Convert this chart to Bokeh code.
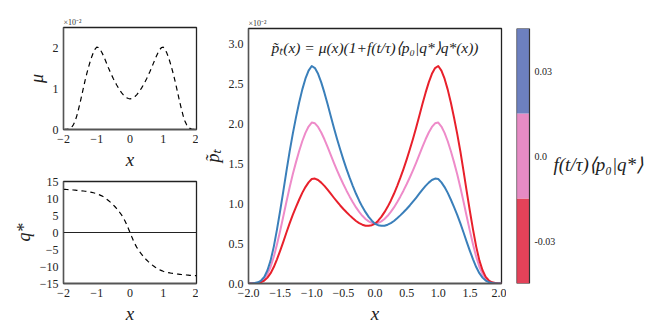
from bokeh.plotting import figure
from bokeh.layouts import row, column
from bokeh.models import FixedTicker, Span
from bokeh.embed import file_html
from bokeh.resources import INLINE
from bokeh.core.properties import value

# ---------------- data ----------------
x = [-2.0, -1.95, -1.9, -1.85, -1.8, -1.75, -1.7, -1.65, -1.6, -1.55,
     -1.5, -1.45, -1.4, -1.35, -1.3, -1.25, -1.2, -1.15, -1.1, -1.05,
     -1.0, -0.95, -0.9, -0.85, -0.8, -0.75, -0.7, -0.65, -0.6, -0.55,
     -0.5, -0.45, -0.4, -0.35, -0.3, -0.25, -0.2, -0.15, -0.1, -0.05,
     0.0,
     0.05, 0.1, 0.15, 0.2, 0.25, 0.3, 0.35, 0.4, 0.45, 0.5,
     0.55, 0.6, 0.65, 0.7, 0.75, 0.8, 0.85, 0.9, 0.95, 1.0,
     1.05, 1.1, 1.15, 1.2, 1.25, 1.3, 1.35, 1.4, 1.45, 1.5,
     1.55, 1.6, 1.65, 1.7, 1.75, 1.8, 1.85, 1.9, 1.95, 2.0]

# mu(x), units of 1e-2
mu = [0.0, 0.001, 0.004, 0.011, 0.027, 0.06, 0.12, 0.21, 0.335, 0.49,
      0.66, 0.84, 1.025, 1.205, 1.37, 1.52, 1.66, 1.785, 1.89, 1.97,
      2.02, 2.01, 1.965, 1.895, 1.81, 1.715, 1.615, 1.515, 1.42, 1.33,
      1.245, 1.165, 1.09, 1.02, 0.955, 0.898, 0.85, 0.81, 0.78, 0.76,
      0.75,
      0.76, 0.78, 0.81, 0.85, 0.898, 0.955, 1.02, 1.09, 1.165, 1.245,
      1.33, 1.42, 1.515, 1.615, 1.715, 1.81, 1.895, 1.965, 2.01, 2.02,
      1.97, 1.89, 1.785, 1.66, 1.52, 1.37, 1.205, 1.025, 0.84, 0.66,
      0.49, 0.335, 0.21, 0.12, 0.06, 0.027, 0.011, 0.004, 0.001, 0.0]

# q*(x)
qstar = [12.7, 12.68, 12.65, 12.63, 12.6, 12.55, 12.5, 12.45, 12.4, 12.35,
         12.3, 12.25, 12.2, 12.13, 12.05, 11.98, 11.9, 11.8, 11.7, 11.55,
         11.4, 11.2, 11.0, 10.78, 10.5, 10.17, 9.8, 9.42, 9.0, 8.57,
         8.1, 7.57, 7.0, 6.42, 5.8, 5.1, 4.3, 3.4, 2.35, 1.2,
         0.0,
         -1.2, -2.35, -3.4, -4.3, -5.1, -5.8, -6.42, -7.0, -7.57, -8.1,
         -8.57, -9.0, -9.42, -9.8, -10.17, -10.5, -10.78, -11.0, -11.2, -11.4,
         -11.55, -11.7, -11.8, -11.9, -11.98, -12.05, -12.13, -12.2, -12.25, -12.3,
         -12.35, -12.4, -12.45, -12.5, -12.55, -12.6, -12.63, -12.65, -12.68, -12.7]

# p~_t(x), units of 1e-2, for f<p0|q*> = +0.03 (blue), 0.0 (pink = mu), -0.03 (red)
p_pos = [0.0, 0.0014, 0.0056, 0.0153, 0.0375, 0.0832, 0.1662, 0.2904, 0.463, 0.676,
         0.910, 1.157, 1.410, 1.656, 1.878, 2.081, 2.269, 2.433, 2.570, 2.671,
         2.729, 2.703, 2.631, 2.524, 2.395, 2.252, 2.103, 1.954, 1.813, 1.681,
         1.555, 1.436, 1.325, 1.222, 1.126, 1.039, 0.962, 0.895, 0.836, 0.788,
         0.75,
         0.732, 0.724, 0.725, 0.738, 0.757, 0.784, 0.818, 0.855, 0.894, 0.935,
         0.979, 1.027, 1.076, 1.127, 1.178, 1.225, 1.266, 1.299, 1.317, 1.311,
         1.269, 1.210, 1.137, 1.051, 0.959, 0.862, 0.754, 0.640, 0.523, 0.410,
         0.304, 0.207, 0.1296, 0.0738, 0.0368, 0.0165, 0.0067, 0.0024, 0.0006, 0.0]
p_zero = mu
p_neg = [0.0, 0.0006, 0.0024, 0.0067, 0.0165, 0.0368, 0.0738, 0.1296, 0.207, 0.304,
         0.410, 0.523, 0.640, 0.754, 0.862, 0.959, 1.051, 1.137, 1.210, 1.269,
         1.311, 1.317, 1.299, 1.266, 1.225, 1.178, 1.127, 1.076, 1.027, 0.979,
         0.935, 0.894, 0.855, 0.818, 0.784, 0.757, 0.738, 0.725, 0.724, 0.732,
         0.75,
         0.788, 0.836, 0.895, 0.962, 1.039, 1.126, 1.222, 1.325, 1.436, 1.555,
         1.681, 1.813, 1.954, 2.103, 2.252, 2.395, 2.524, 2.631, 2.703, 2.729,
         2.671, 2.570, 2.433, 2.269, 2.081, 1.878, 1.656, 1.410, 1.157, 0.910,
         0.676, 0.463, 0.2904, 0.1662, 0.0832, 0.0375, 0.0153, 0.0056, 0.0014, 0.0]

cb_values = [-0.03, 0.0, 0.03]
cb_labels = ["-0.03", "0.0", "0.03"]
cb_colors = ["#e34259", "#e68bc4", "#6d80bf"]

small_xticks = [-2, -1, 0, 1, 2]
small_xlabels = ["\u22122", "\u22121", "0", "1", "2"]
mu_yticks = [0, 1, 2]
mu_ylabels = ["0", "1", "2"]
q_yticks = [-15, -10, -5, 0, 5, 10, 15]
q_ylabels = ["\u221215", "\u221210", "\u22125", "0", "5", "10", "15"]
main_xticks = [-2.0, -1.5, -1.0, -0.5, 0.0, 0.5, 1.0, 1.5, 2.0]
main_xlabels = ["\u22122.0", "\u22121.5", "\u22121.0", "\u22120.5", "0.0",
                "0.5", "1.0", "1.5", "2.0"]
main_yticks = [0.0, 0.5, 1.0, 1.5, 2.0, 2.5, 3.0]
main_ylabels = ["0.0", "0.5", "1.0", "1.5", "2.0", "2.5", "3.0"]

SERIF = "Liberation Serif"
TXT = "#222222"


def style(p, xt, xl, yt, yl, xlabel, ylabel, ylabel_size="18px"):
    p.xgrid.visible = False
    p.ygrid.visible = False
    p.outline_line_color = "#222222"
    p.outline_line_width = 1.3
    for ax in (p.xaxis[0], p.yaxis[0]):
        ax.axis_line_color = "#555555"
        ax.axis_line_width = 1.3
        ax.major_tick_line_color = None
        ax.minor_tick_line_color = None
        ax.major_tick_out = 0
        ax.major_tick_in = 0
        ax.minor_tick_out = 0
        ax.major_label_text_font = SERIF
        ax.major_label_text_font_size = "12px"
        ax.major_label_text_color = TXT
        ax.major_label_standoff = 5
        ax.axis_label_text_font = SERIF
        ax.axis_label_text_font_style = "italic"
        ax.axis_label_text_color = TXT
        ax.axis_label_standoff = 3
    p.xaxis.ticker = FixedTicker(ticks=xt)
    p.xaxis.major_label_overrides = {t: s for t, s in zip(xt, xl)}
    p.yaxis.ticker = FixedTicker(ticks=yt)
    p.yaxis.major_label_overrides = {t: s for t, s in zip(yt, yl)}
    p.xaxis.axis_label = xlabel
    p.xaxis.axis_label_text_font_size = "19px"
    p.yaxis.axis_label = ylabel
    p.yaxis.axis_label_text_font_size = ylabel_size


def sci_title(p):
    p.title.text = "\u00d710\u207b\u00b2"
    p.title.text_font = SERIF
    p.title.text_font_size = "8px"
    p.title.text_font_style = "normal"
    p.title.text_color = "#333333"
    p.title.align = "left"
    p.title.standoff = 1


# ---------------- top-left: mu ----------------
p1 = figure(width=198, height=172, x_range=(-2, 2), y_range=(0, 2.5),
            output_backend="svg", toolbar_location=None,
            min_border_left=63, min_border_right=2,
            min_border_top=27, min_border_bottom=43)
p1.line(x, mu, line_color="black", line_width=1.2, line_dash="5 4")
style(p1, small_xticks, small_xlabels, mu_yticks, mu_ylabels, "x", "\u03bc")
sci_title(p1)

# ---------------- bottom-left: q* ----------------
p2 = figure(width=198, height=162, x_range=(-2, 2), y_range=(-15, 15),
            output_backend="svg", toolbar_location=None,
            min_border_left=63, min_border_right=2,
            min_border_top=9, min_border_bottom=51)
p2.add_layout(Span(location=0, dimension="width", line_color="#222222",
                   line_width=1.2))
p2.line(x, qstar, line_color="black", line_width=1.2, line_dash="5 4")
style(p2, small_xticks, small_xlabels, q_yticks, q_ylabels, "x", "q*")

# ---------------- main plot ----------------
p3 = figure(width=308, height=334, x_range=(-2, 2), y_range=(0, 3.2),
            output_backend="svg", toolbar_location=None,
            min_border_left=50, min_border_right=5,
            min_border_top=28, min_border_bottom=51)
for ys, col in ((p_zero, "#ee8bc9"), (p_neg, "#e8202b"), (p_pos, "#3a7fba")):
    p3.line(x, ys, line_color=col, line_width=2, line_join="round")
style(p3, main_xticks, main_xlabels, main_yticks, main_ylabels, "x",
      "p\u0303\u209c", ylabel_size="18px")
sci_title(p3)
p3.text(x=[0.0], y=[2.96],
        text=["p\u0303\u209c(x) = \u03bc(x)(1+f(t/\u03c4)\u27e8p\u2080|q*\u27e9q*(x))"],
        text_align="center", text_baseline="middle",
        text_font=value(SERIF), text_font_style="italic",
        text_font_size="15.5px", text_color=TXT)

# ---------------- colour bar ----------------
p4 = figure(width=156, height=334, x_range=(0, 146), y_range=(-0.045, 0.045),
            output_backend="svg", toolbar_location=None,
            x_axis_location=None, y_axis_location=None,
            min_border_left=10, min_border_right=0,
            min_border_top=27, min_border_bottom=51)
p4.xgrid.visible = False
p4.ygrid.visible = False
p4.outline_line_color = None
p4.quad(left=[0] * 3, right=[13] * 3,
        bottom=[v - 0.015 for v in cb_values],
        top=[v + 0.015 for v in cb_values],
        fill_color=cb_colors, line_color=None)
p4.quad(left=[0], right=[13], bottom=[cb_values[0] - 0.015],
        top=[cb_values[-1] + 0.015], fill_color=None,
        line_color="#333333", line_width=1.2)
p4.text(x=[18] * 3, y=cb_values, text=cb_labels, text_baseline="middle",
        text_font=value(SERIF), text_font_size="10px", text_color=TXT)
p4.text(x=[37], y=[-0.003], text=["f(t/\u03c4)\u27e8p\u2080|q*\u27e9"],
        text_baseline="middle", text_font=value(SERIF),
        text_font_style="italic", text_font_size="19px", text_color=TXT)

layout = row(column(p1, p2), p3, p4)
open("out.html", "w").write(file_html(layout, INLINE))
